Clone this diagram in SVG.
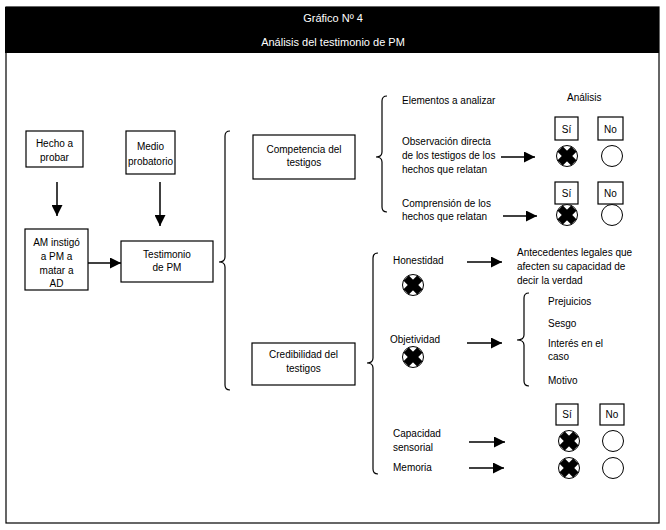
<svg xmlns="http://www.w3.org/2000/svg" width="666" height="530" viewBox="0 0 666 530">
<defs>
<style>
text{font-family:"Liberation Sans",Arial,sans-serif;font-size:10px;fill:#000}
.c{text-anchor:middle}
.h{fill:#fff;font-size:11px;text-anchor:middle}
.box{fill:#fff;stroke:#000;stroke-width:1.2}
.ln{fill:none;stroke:#000;stroke-width:1.5}
.br{fill:none;stroke:#000;stroke-width:1.2}
.o{fill:#fff;stroke:#000;stroke-width:1}
.x{stroke:#000;stroke-width:7.5;stroke-linecap:butt}
</style>
<marker id="ah" viewBox="0 0 10 10" refX="10" refY="5" markerWidth="11" markerHeight="11" markerUnits="userSpaceOnUse" orient="auto">
<path d="M0,0 L10,5 L0,10 Z" fill="#000"/>
</marker>
<g id="xc">
<circle r="10.5" class="o"/>
<line x1="-6.8" y1="-6.8" x2="6.8" y2="6.8" class="x"/>
<line x1="-6.8" y1="6.8" x2="6.8" y2="-6.8" class="x"/>
</g>
<circle id="oc" r="10.5" class="o"/>
</defs>
<rect x="0" y="0" width="666" height="530" fill="#fff"/>
<g id="frame">
<rect x="6" y="7" width="653" height="516" fill="#fff" stroke="#000" stroke-width="1.2"/>
<rect x="5" y="7" width="654" height="46" fill="#000"/>
<text class="h" x="333" y="22">Gráfico Nº 4</text>
<text class="h" x="333" y="46">Análisis del testimonio de PM</text>
</g>
<g id="connectors">
<line class="ln" x1="57" y1="182" x2="57" y2="216" marker-end="url(#ah)"/>
<line class="ln" x1="160" y1="182" x2="160" y2="226" marker-end="url(#ah)"/>
<line class="ln" x1="88" y1="263" x2="121" y2="263" marker-end="url(#ah)"/>
<path class="br" d="M230,131 Q225,131 225,136 L225,257 Q225,262 219,262 Q225,262 225,267 L225,385 Q225,390 230,390"/>
<path class="br" d="M387,96 Q382,96 382,101 L382,152 Q382,157 376,157 Q382,157 382,162 L382,207 Q382,212 387,212"/>
<path class="br" d="M378,253 Q373,253 373,258 L373,358 Q373,363 367,363 Q373,363 373,368 L373,469 Q373,474 378,474"/>
<path class="br" d="M529,293 Q524,293 524,298 L524,335 Q524,340 517,340 Q524,340 524,345 L524,381 Q524,386 529,386"/>
<line class="ln" x1="501" y1="157" x2="535" y2="157" marker-end="url(#ah)"/>
<line class="ln" x1="503" y1="216" x2="537" y2="216" marker-end="url(#ah)"/>
<line class="ln" x1="467" y1="262" x2="502" y2="262" marker-end="url(#ah)"/>
<line class="ln" x1="467" y1="343" x2="502" y2="343" marker-end="url(#ah)"/>
<line class="ln" x1="469" y1="442" x2="505" y2="442" marker-end="url(#ah)"/>
<line class="ln" x1="469" y1="468" x2="504" y2="468" marker-end="url(#ah)"/>
</g>
<g id="hecho">
<rect class="box" x="26" y="131" width="57" height="36"/>
<text class="c" x="54.5" y="147">Hecho a</text>
<text class="c" x="54.5" y="161">probar</text>
</g>
<g id="medio">
<rect class="box" x="126" y="131" width="49" height="43"/>
<text class="c" x="150.5" y="150">Medio</text>
<text class="c" x="150.5" y="165">probatorio</text>
</g>
<g id="am">
<rect class="box" x="25" y="229" width="63" height="61"/>
<text class="c" x="56.5" y="246">AM instigó</text>
<text class="c" x="56.5" y="260">a PM a</text>
<text class="c" x="56.5" y="274">matar a</text>
<text class="c" x="56.5" y="287">AD</text>
</g>
<g id="testimonio">
<rect class="box" x="121" y="241" width="92" height="41"/>
<text class="c" x="167" y="258">Testimonio</text>
<text class="c" x="167" y="271">de PM</text>
</g>
<g id="competencia">
<rect class="box" x="253" y="135" width="102" height="44"/>
<text class="c" x="304" y="153">Competencia del</text>
<text class="c" x="304" y="166">testigos</text>
</g>
<g id="credibilidad">
<rect class="box" x="252" y="343" width="103" height="42"/>
<text class="c" x="303.5" y="358">Credibilidad del</text>
<text class="c" x="303.5" y="372">testigos</text>
</g>
<g id="elementos">
<text x="402" y="104">Elementos a analizar</text>
<text x="567" y="101">Análisis</text>
</g>
<g id="observacion">
<text x="402" y="145">Observación directa</text>
<text x="402" y="159">de los testigos de los</text>
<text x="402" y="173">hechos que relatan</text>
</g>
<g id="comprension">
<text x="402" y="207">Comprensión de los</text>
<text x="402" y="220">hechos que relatan</text>
</g>
<g id="analisis1">
<rect class="box" x="555" y="117" width="23" height="23"/>
<text class="c" x="566.5" y="133">Sí</text>
<rect class="box" x="598" y="117" width="25" height="23"/>
<text class="c" x="610.5" y="133">No</text>
<use href="#xc" x="567" y="156"/>
<use href="#oc" x="612" y="156"/>
</g>
<g id="analisis2">
<rect class="box" x="555" y="182" width="23" height="22"/>
<text class="c" x="566.5" y="197">Sí</text>
<rect class="box" x="598" y="182" width="25" height="22"/>
<text class="c" x="610.5" y="197">No</text>
<use href="#xc" x="567" y="215"/>
<use href="#oc" x="612" y="215"/>
</g>
<g id="honestidad">
<text x="393" y="264">Honestidad</text>
<use href="#xc" x="413" y="285"/>
</g>
<g id="antecedentes">
<text x="517" y="256">Antecedentes legales que</text>
<text x="517" y="270">afecten su capacidad de</text>
<text x="517" y="284">decir la verdad</text>
</g>
<g id="objetividad">
<text x="390" y="343">Objetividad</text>
<use href="#xc" x="413" y="357"/>
</g>
<g id="factores">
<text x="548" y="305">Prejuicios</text>
<text x="548" y="327">Sesgo</text>
<text x="548" y="347">Interés en el</text>
<text x="548" y="360">caso</text>
<text x="548" y="384">Motivo</text>
</g>
<g id="capacidad">
<text x="393" y="437">Capacidad</text>
<text x="393" y="451">sensorial</text>
</g>
<g id="memoria">
<text x="393" y="471">Memoria</text>
</g>
<g id="analisis3">
<rect class="box" x="556" y="404" width="22" height="21"/>
<text class="c" x="567" y="418">Sí</text>
<rect class="box" x="600" y="404" width="24" height="21"/>
<text class="c" x="612" y="418">No</text>
<use href="#xc" x="569" y="441"/>
<use href="#oc" x="613" y="441"/>
<use href="#xc" x="569" y="468"/>
<use href="#oc" x="613" y="468"/>
</g>
</svg>
